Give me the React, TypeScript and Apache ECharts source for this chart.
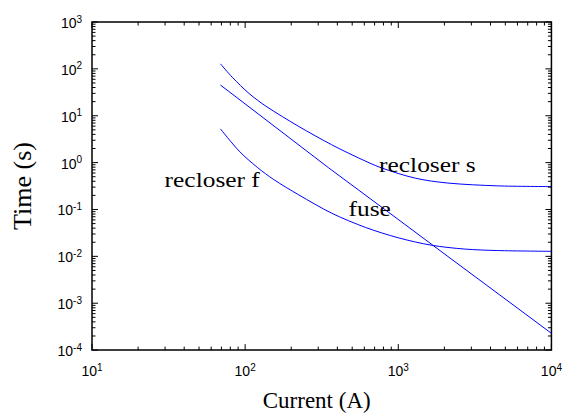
import React, { useEffect, useRef } from "react";
import * as echarts from "echarts";

// Time-current characteristics (log-log)
const recloserSCurrent = [69, 82.3, 106, 137, 224, 367, 550, 775, 1290, 2110, 4460, 10000];
const recloserSTime = [128, 66.5, 29.9, 15.9, 5.91, 2.41, 1.26, 0.774, 0.466, 0.366, 0.319, 0.308];

const recloserFCurrent = [69, 91.4, 120, 154, 224, 367, 611, 1000, 1640, 2720, 4460, 10000];
const recloserFTime = [5.24, 1.76, 0.793, 0.433, 0.205, 0.0835, 0.0414, 0.0249, 0.0173, 0.0143, 0.0133, 0.0128];

const fuseCurrent = [69, 351, 952, 2110, 10000];
const fuseTime = [45.2, 0.774, 0.0689, 0.00993, 0.000228];

// Curve annotations, anchored in data space
const curveLabels = ["recloser s", "fuse", "recloser f"];
const labelCurrent = [749, 473, 29.8];
const labelTime = [0.853, 0.101, 0.413];

// Axis decades and minor tick multipliers
const xDecades = [10, 100, 1000, 10000];
const yDecades = [1e-4, 1e-3, 1e-2, 1e-1, 1, 10, 100, 1000];
const minorSteps = [2, 3, 4, 5, 6, 7, 8, 9];

const pairs = (xs: number[], ys: number[]) => xs.map((x, i) => [x, ys[i]]);

// [value, isMajor] for every tick of a decade axis
function tickValues(decades: number[]) {
  const out: [number, boolean][] = [];
  decades.forEach((d, i) => {
    out.push([d, true]);
    if (i < decades.length - 1) minorSteps.forEach((m) => out.push([d * m, false]));
  });
  return out;
}

const powerLabel = (v: number) => `{b|10}{s|${Math.round(Math.log10(v))}}`;
const powerRich = {
  b: { fontSize: 14, fontFamily: "Liberation Sans", color: "#000", verticalAlign: "bottom", lineHeight: 16 },
  s: { fontSize: 10, fontFamily: "Liberation Sans", color: "#000", verticalAlign: "top", lineHeight: 10, padding: [0, 0, 12, 0] },
};

export default function App() {
  const ref = useRef<HTMLDivElement>(null);

  useEffect(() => {
    if (!ref.current) return;
    const chart = echarts.init(ref.current, undefined, { renderer: "svg" });

    const curve = (name: string, data: number[][], smooth: number | boolean) => ({
      name,
      type: "line",
      data,
      showSymbol: false,
      smooth,
      lineStyle: { color: "#0000ff", width: 1 },
      itemStyle: { color: "#0000ff" },
      z: 3,
    });

    const option: any = {
      animation: false,
      backgroundColor: "#fff",
      grid: {
        left: 92,
        top: 22,
        right: 11,
        bottom: 62,
        show: true,
        borderColor: "#000",
        borderWidth: 1.5,
        backgroundColor: "transparent",
      },
      xAxis: {
        type: "log",
        logBase: 10,
        min: 10,
        max: 10000,
        splitNumber: 3,
        name: "Current (A)",
        nameLocation: "middle",
        nameGap: 37,
        nameTextStyle: { fontFamily: "Liberation Serif", fontSize: 23, color: "#000", padding: [0, 10, 0, 0] },
        axisLine: { show: false },
        axisTick: { show: false },
        splitLine: { show: false },
        axisLabel: { margin: 12, formatter: powerLabel, rich: powerRich },
      },
      yAxis: {
        type: "log",
        logBase: 10,
        min: 1e-4,
        max: 1000,
        splitNumber: 7,
        name: "Time (s)",
        nameLocation: "middle",
        nameGap: 57,
        nameTextStyle: { fontFamily: "Liberation Serif", fontSize: 26, color: "#000" },
        axisLine: { show: false },
        axisTick: { show: false },
        splitLine: { show: false },
        axisLabel: { margin: 10, formatter: powerLabel, rich: powerRich },
      },
      series: [
        curve("recloser s", pairs(recloserSCurrent, recloserSTime), 0.3),
        curve("recloser f", pairs(recloserFCurrent, recloserFTime), 0.3),
        curve("fuse", pairs(fuseCurrent, fuseTime), false),
      ],
    };

    chart.setOption(option);

    const toPx = (x: number, y: number) =>
      chart.convertToPixel({ gridIndex: 0 }, [x, y]) as number[];

    const [left, bottom] = toPx(xDecades[0], yDecades[0]);
    const [right, top] = toPx(xDecades[xDecades.length - 1], yDecades[yDecades.length - 1]);
    const tickStyle = { stroke: "#000", lineWidth: 1 };
    const graphic: any[] = [];

    // inward ticks on all four sides
    tickValues(xDecades).forEach(([v, major]) => {
      const x = toPx(v, 1)[0];
      const len = major ? 6 : 3.5;
      graphic.push({ type: "line", z: 5, shape: { x1: x, y1: bottom, x2: x, y2: bottom - len }, style: tickStyle });
      graphic.push({ type: "line", z: 5, shape: { x1: x, y1: top, x2: x, y2: top + len }, style: tickStyle });
    });
    tickValues(yDecades).forEach(([v, major]) => {
      const y = toPx(10, v)[1];
      const len = major ? 6 : 3.5;
      graphic.push({ type: "line", z: 5, shape: { x1: left, y1: y, x2: left + len, y2: y }, style: tickStyle });
      graphic.push({ type: "line", z: 5, shape: { x1: right, y1: y, x2: right - len, y2: y }, style: tickStyle });
    });

    curveLabels.forEach((text, i) => {
      const pt = toPx(labelCurrent[i], labelTime[i]);
      graphic.push({
        type: "text",
        x: pt[0],
        y: pt[1],
        scaleX: 1.27,
        z: 10,
        style: {
          text,
          fill: "#000",
          fontFamily: "Liberation Serif",
          fontSize: 20,
          align: "left",
          verticalAlign: "middle",
        },
      });
    });
    chart.setOption({ graphic });

    return () => chart.dispose();
  }, []);

  return (
    <div
      ref={ref}
      style={{ position: "absolute", left: 0, top: 0, width: 565, height: 417, background: "#fff" }}
    />
  );
}
